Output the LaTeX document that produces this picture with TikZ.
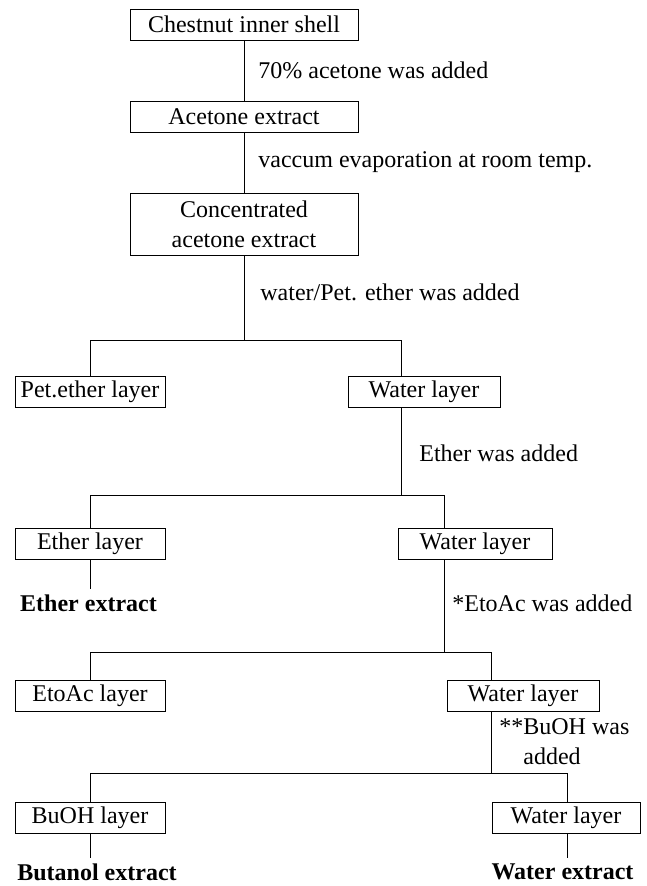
\documentclass[tikz,border=0pt]{standalone}
\usepackage{fontspec}
\setmainfont{Liberation Serif}
\usetikzlibrary{calc}

\begin{document}
\begin{tikzpicture}[x=1pt,y=-1pt,
  font=\fontsize{24}{30}\selectfont,
  every path/.style={line width=0.8pt},
  box/.style={draw, inner sep=0pt, minimum height=31pt, align=center},
  lbl/.style={anchor=west, inner sep=0pt},
  result/.style={font=\fontsize{24}{30}\selectfont\bfseries, inner sep=0pt, outer sep=6pt}]

% page frame
\useasboundingbox (0,0) rectangle (646,886);

% main column
\node[box, minimum width=228pt] (shell) at (244,24.5) {Chestnut inner shell};
\node[box, minimum width=228pt] (acet) at (244,117) {Acetone extract};
\node[box, minimum width=228pt, minimum height=62pt] (conc) at (244,224) {Concentrated\\acetone extract};

\draw (shell.south) -- (acet.north);
\draw (acet.south) -- (conc.north);

\node[lbl] (add1) at (258,70) {70\% acetone was added};
\node[lbl] (add2) at (258,162) {vaccum evaporation at room temp.};

% first partition
\coordinate (s1) at (244,340);
\coordinate (s1r) at (401,340);
\node[box, minimum width=150pt] (pet) at (90,391.5) {Pet.ether layer};
\node[box, minimum width=152pt] (water1) at (424,391.5) {Water layer};

\draw (conc.south) -- (s1);
\draw (pet.north) |- (s1r) -- (water1.north -| s1r);
\node[lbl] (add3) at (260,292) {water/Pet. ether was added};

% second partition
\coordinate (s2) at (401,495);
\coordinate (s2r) at (444,495);
\node[box, minimum width=150pt] (ether) at (90,543.5) {Ether layer};
\node[box, minimum width=154pt] (water2) at (475,543.5) {Water layer};

\draw (water1.south -| s2) -- (s2);
\draw (ether.north) |- (s2r) -- (water2.north -| s2r);
\node[lbl] (add4) at (419,453) {Ether was added};

\node[result] (etherx) at (88.5,603) {Ether extract};
\draw (ether.south) -- (ether.south |- etherx.north);

% third partition
\coordinate (s3) at (444,652);
\coordinate (s3r) at (491,652);
\node[box, minimum width=150pt] (etoac) at (90,695.5) {EtoAc layer};
\node[box, minimum width=152pt] (water3) at (523,695.5) {Water layer};

\draw (water2.south -| s3) -- (s3);
\draw (etoac.north) |- (s3r) -- (water3.north -| s3r);
\node[lbl] (add5) at (452,603) {*EtoAc was added};

% fourth partition
\coordinate (s4) at (491,773);
\coordinate (s4r) at (567,773);
\node[box, minimum width=150pt] (buoh) at (90,817.5) {BuOH layer};
\node[box, minimum width=148pt] (water4) at (566,817.5) {Water layer};

\draw (water3.south -| s4) -- (s4);
\draw (buoh.north) |- (s4r) -- (water4.north -| s4r);
\node[lbl, align=left] (add6) at (499,742) {**BuOH was\\\hphantom{**}added};

% final extracts
\node[result] (butx) at (97,872) {Butanol extract};
\node[result] (waterx) at (562.5,872) {Water extract};
\draw (buoh.south) -- (buoh.south |- butx.north);
\draw (water4.south -| s4r) -- (s4r |- waterx.north);

\end{tikzpicture}
\end{document}
